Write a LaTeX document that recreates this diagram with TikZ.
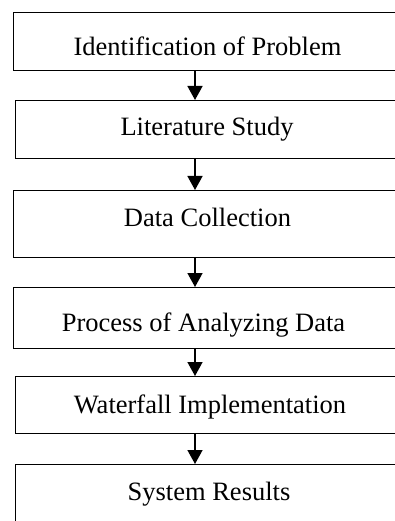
\documentclass[tikz,border=0pt]{standalone}
\usepackage{fontspec}
\setmainfont{Liberation Serif}
\usetikzlibrary{arrows.meta}
\begin{document}
\begin{tikzpicture}[x=1pt,y=-1pt,
  stage/.style={draw=black, line width=1.3pt, rectangle, inner sep=0pt,
                anchor=north west, minimum width=388pt},
  caption/.style={anchor=base, inner sep=0pt, font=\fontsize{26.5}{30}\selectfont},
  flow/.style={line width=1.6pt, -{Triangle[width=15pt,length=14pt]}}]
\useasboundingbox (0,0) rectangle (395,521);
\clip (0,0) rectangle (395,521);
% stage boxes
\node[stage, minimum height=58pt] (b1) at (13,12) {};
\node[stage, minimum height=58pt] (b2) at (14.5,100) {};
\node[stage, minimum height=67pt] (b3) at (13,190) {};
\node[stage, minimum height=61pt] (b4) at (13,287) {};
\node[stage, minimum height=57pt] (b5) at (14.5,376) {};
\node[stage, minimum height=80pt] (b6) at (14.5,464) {};
% stage captions
\node[caption] (t1) at (207.5,56) {Identification of Problem};
\node[caption] (t2) at (207,136) {Literature Study};
\node[caption] (t3) at (207.5,226.7) {Data Collection};
\node[caption] (t4) at (203.5,331.7) {Process of Analyzing Data};
\node[caption] (t5) at (210,413.3) {Waterfall Implementation};
\node[caption] (t6) at (209,500) {System Results};
% connectors
\coordinate (ax) at (195,0);
\draw[flow] (b1.south -| ax) -- (b2.north -| ax);
\draw[flow] (b2.south -| ax) -- (b3.north -| ax);
\draw[flow] (b3.south -| ax) -- (b4.north -| ax);
\draw[flow] (b4.south -| ax) -- (b5.north -| ax);
\draw[flow] (b5.south -| ax) -- (b6.north -| ax);
\end{tikzpicture}
\end{document}
